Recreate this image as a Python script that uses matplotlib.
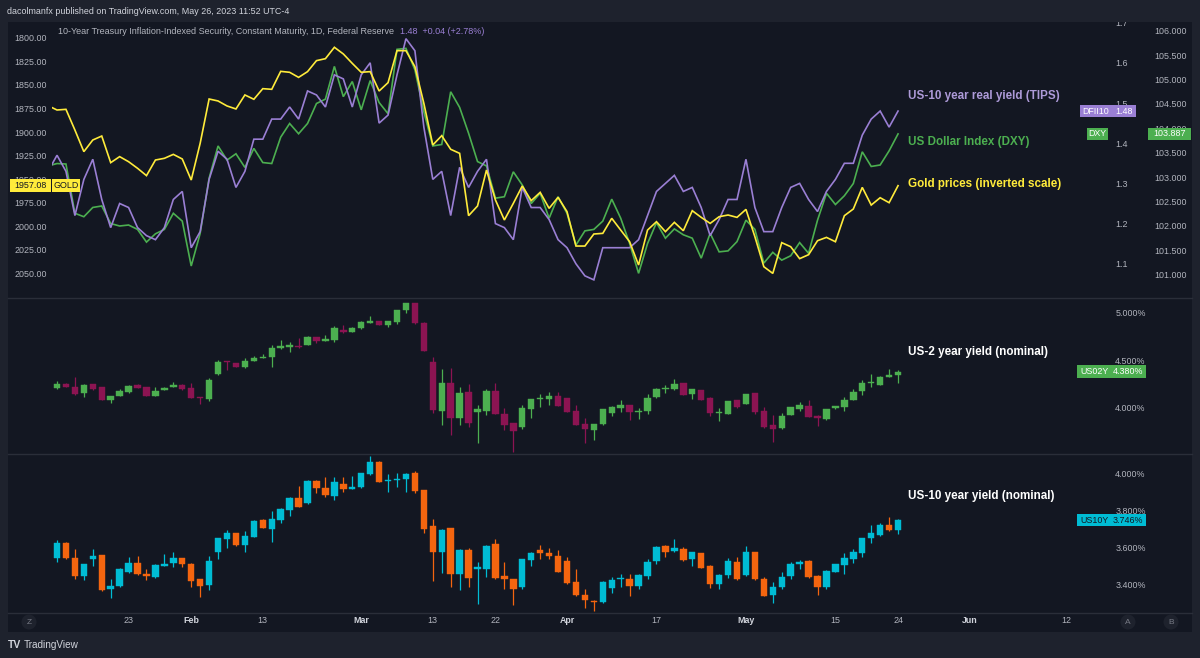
import numpy as np
import matplotlib
matplotlib.use('Agg')
import matplotlib.pyplot as plt
from matplotlib.patches import Rectangle, Ellipse
from matplotlib.lines import Line2D
import matplotlib.transforms as mtrans

plt.rcParams['font.family'] = ['Liberation Sans', 'DejaVu Sans']

# ---------------- DATA (daily bars, 9 Jan 2023 .. 24 May 2023) ----------------
gold = [1872.0, 1876.6, 1875.9, 1897.9, 1920.9, 1908.5, 1904.3, 1932.6, 1926.2, 1931.6,
        1938.6, 1946.4, 1929.8, 1928.0, 1923.8, 1928.7, 1951.1, 1912.0, 1864.9, 1867.0,
        1872.3, 1875.5, 1860.6, 1865.2, 1853.9, 1854.6, 1835.5, 1836.5, 1841.9, 1835.8,
        1824.1, 1822.0, 1809.9, 1817.0, 1827.0, 1836.5, 1835.8, 1856.4, 1847.5, 1813.5,
        1813.5, 1830.5, 1869.5, 1913.8, 1903.9, 1918.4, 1922.7, 1989.0, 1978.7, 1940.4,
        1972.3, 1993.6, 1975.9, 1957.4, 1973.0, 1964.2, 1981.2, 1969.5, 1984.7, 2021.3,
        2021.3, 2008.5, 2007.8, 1991.8, 2004.3, 2016.7, 2041.5, 2004.3, 1995.4, 2006.0,
        1996.1, 2005.0, 1983.7, 1990.8, 1997.2, 1990.1, 1988.3, 1990.8, 1982.3, 2011.4,
        2043.3, 2050.4, 2017.7, 2022.0, 2034.7, 2030.5, 2015.6, 2012.1, 2016.7, 1989.0,
        1981.9, 1958.9, 1977.7, 1969.9, 1975.2, 1957.08]

dfii10 = [1.33, 1.37, 1.33, 1.22, 1.31, 1.36, 1.26, 1.19, 1.25, 1.24,
          1.19, 1.17, 1.16, 1.19, 1.26, 1.28, 1.14, 1.18, 1.31, 1.38,
          1.36, 1.29, 1.33, 1.41, 1.41, 1.46, 1.46, 1.49, 1.46, 1.53,
          1.52, 1.49, 1.57, 1.56, 1.49, 1.57, 1.60, 1.45, 1.47, 1.57,
          1.66, 1.63, 1.44, 1.31, 1.33, 1.22, 1.34, 1.29, 1.33, 1.36,
          1.20, 1.19, 1.16, 1.29, 1.24, 1.24, 1.21, 1.16, 1.14, 1.10,
          1.07, 1.06, 1.14, 1.14, 1.14, 1.14, 1.16, 1.22, 1.28, 1.30,
          1.32, 1.28, 1.29, 1.24, 1.17, 1.21, 1.26, 1.26, 1.36, 1.24,
          1.18, 1.18, 1.24, 1.29, 1.30, 1.26, 1.23, 1.28, 1.31, 1.35,
          1.35, 1.42, 1.46, 1.48, 1.44, 1.48]

dxy = [103.23, 103.28, 103.27, 102.26, 102.19, 102.38, 102.41, 102.05, 102.00, 102.02,
       101.93, 101.67, 101.84, 101.93, 102.26, 102.10, 101.18, 101.85, 102.98, 103.64,
       103.35, 103.48, 103.20, 103.59, 103.30, 103.28, 103.82, 104.10, 103.89, 104.10,
       104.51, 104.60, 105.27, 104.65, 104.96, 104.38, 104.98, 104.53, 104.30, 105.62,
       105.64, 105.20, 104.34, 103.64, 103.67, 104.75, 104.43, 103.90, 103.32, 103.23,
       102.57, 102.60, 103.11, 102.84, 102.46, 102.67, 102.16, 102.60, 102.26, 101.61,
       101.90, 101.93, 102.10, 102.55, 102.16, 101.64, 101.03, 101.64, 102.07, 101.75,
       101.94, 101.82, 101.75, 101.34, 101.85, 101.47, 101.49, 101.68, 102.12, 101.93,
       101.24, 101.46, 101.30, 101.39, 101.66, 101.44, 102.12, 102.67, 102.44, 102.62,
       102.87, 103.52, 103.22, 103.25, 103.54, 103.887]

us02_open = [4.270, 4.208, 4.253, 4.222, 4.153, 4.250, 4.215, 4.083, 4.128, 4.163,
             4.236, 4.215, 4.128, 4.187, 4.219, 4.243, 4.208, 4.114, 4.097, 4.354,
             4.482, 4.469, 4.423, 4.489, 4.521, 4.528, 4.625, 4.639, 4.649, 4.660,
             4.736, 4.701, 4.712, 4.812, 4.795, 4.830, 4.889, 4.903, 4.861, 4.896,
             5.021, 5.090, 4.889, 4.482, 3.972, 4.264, 3.892, 4.163, 3.958, 3.972,
             4.177, 3.934, 3.840, 3.798, 3.989, 4.090, 4.097, 4.125, 4.101, 3.972,
             3.833, 3.771, 3.830, 3.944, 4.003, 4.031, 3.955, 3.965, 4.118, 4.198,
             4.194, 4.257, 4.142, 4.184, 4.107, 3.944, 3.937, 4.083, 4.042, 4.156,
             3.972, 3.823, 3.788, 3.927, 3.989, 4.024, 3.920, 3.889, 3.996, 4.014,
             4.083, 4.177, 4.260, 4.243, 4.326, 4.344]
us02_high = [4.300, 4.285, 4.258, 4.326, 4.247, 4.255, 4.218, 4.128, 4.198, 4.243,
             4.250, 4.218, 4.215, 4.222, 4.267, 4.247, 4.257, 4.117, 4.309, 4.500,
             4.486, 4.472, 4.517, 4.538, 4.559, 4.653, 4.708, 4.691, 4.726, 4.750,
             4.740, 4.760, 4.854, 4.864, 4.842, 4.910, 4.958, 4.906, 4.906, 5.025,
             5.095, 5.095, 4.893, 4.535, 4.403, 4.413, 4.215, 4.250, 4.031, 4.194,
             4.257, 3.996, 3.844, 4.031, 4.097, 4.146, 4.163, 4.170, 4.105, 4.031,
             3.892, 3.837, 3.990, 4.017, 4.083, 4.035, 3.996, 4.146, 4.205, 4.239,
             4.298, 4.260, 4.198, 4.187, 4.111, 3.996, 4.076, 4.087, 4.150, 4.160,
             4.014, 3.927, 3.944, 4.010, 4.059, 4.083, 3.924, 3.993, 4.024, 4.118,
             4.194, 4.292, 4.351, 4.330, 4.406, 4.392]
us02_low = [4.240, 4.201, 4.215, 4.138, 4.118, 4.187, 4.080, 4.048, 4.125, 4.160,
            4.205, 4.122, 4.125, 4.184, 4.215, 4.190, 4.104, 4.042, 4.073, 4.340,
            4.396, 4.424, 4.420, 4.486, 4.518, 4.430, 4.611, 4.587, 4.628, 4.656,
            4.673, 4.698, 4.691, 4.778, 4.791, 4.826, 4.885, 4.864, 4.847, 4.871,
            4.993, 4.878, 4.593, 3.944, 3.823, 3.719, 3.823, 3.805, 3.632, 3.927,
            3.933, 3.771, 3.545, 3.778, 3.892, 4.007, 4.031, 4.020, 3.958, 3.820,
            3.639, 3.667, 3.826, 3.920, 3.962, 3.875, 3.882, 3.937, 4.101, 4.153,
            4.190, 4.135, 4.090, 4.080, 3.917, 3.865, 3.933, 4.003, 4.038, 3.937,
            3.795, 3.649, 3.785, 3.924, 3.969, 3.906, 3.812, 3.875, 3.993, 3.972,
            4.080, 4.135, 4.222, 4.240, 4.322, 4.257]
us02_close = [4.260, 4.250, 4.219, 4.142, 4.243, 4.201, 4.083, 4.125, 4.177, 4.229,
              4.208, 4.125, 4.180, 4.205, 4.243, 4.194, 4.107, 4.101, 4.292, 4.482,
              4.476, 4.427, 4.489, 4.524, 4.531, 4.628, 4.642, 4.646, 4.632, 4.736,
              4.701, 4.708, 4.830, 4.788, 4.837, 4.892, 4.899, 4.868, 4.903, 5.021,
              5.090, 4.882, 4.597, 3.979, 4.264, 3.892, 4.160, 3.840, 3.986, 4.177,
              3.937, 3.823, 3.764, 3.996, 4.094, 4.107, 4.125, 4.024, 3.962, 3.823,
              3.781, 3.833, 3.986, 4.014, 4.028, 3.955, 3.969, 4.107, 4.201, 4.212,
              4.250, 4.139, 4.194, 4.083, 3.951, 3.951, 4.073, 4.007, 4.146, 3.955,
              3.798, 3.785, 3.917, 4.007, 4.028, 3.910, 3.899, 3.989, 4.021, 4.083,
              4.163, 4.264, 4.271, 4.326, 4.333, 4.380]

us10_open = [3.575, 3.539, 3.623, 3.542, 3.443, 3.535, 3.555, 3.371, 3.389, 3.465,
             3.515, 3.457, 3.439, 3.499, 3.515, 3.539, 3.510, 3.425, 3.393, 3.575,
             3.641, 3.674, 3.611, 3.656, 3.746, 3.699, 3.746, 3.803, 3.866, 3.839,
             3.956, 3.921, 3.877, 3.939, 3.915, 3.922, 3.994, 4.061, 3.957, 3.962,
             3.967, 4.002, 3.908, 3.713, 3.575, 3.701, 3.457, 3.584, 3.481, 3.484,
             3.616, 3.443, 3.427, 3.385, 3.529, 3.584, 3.566, 3.551, 3.524, 3.412,
             3.340, 3.310, 3.304, 3.380, 3.425, 3.430, 3.389, 3.443, 3.526, 3.605,
             3.580, 3.589, 3.535, 3.566, 3.497, 3.400, 3.448, 3.519, 3.448, 3.571,
             3.430, 3.339, 3.382, 3.443, 3.506, 3.524, 3.445, 3.384, 3.466, 3.502,
             3.535, 3.569, 3.650, 3.665, 3.719, 3.692]
us10_high = [3.580, 3.638, 3.627, 3.587, 3.510, 3.587, 3.558, 3.425, 3.488, 3.544,
             3.551, 3.484, 3.506, 3.562, 3.571, 3.542, 3.513, 3.428, 3.551, 3.650,
             3.692, 3.677, 3.686, 3.746, 3.749, 3.796, 3.810, 3.872, 3.930, 3.960,
             3.960, 3.980, 3.980, 3.980, 3.984, 4.002, 4.092, 4.065, 3.993, 4.002,
             3.998, 4.012, 3.911, 3.749, 3.695, 3.704, 3.587, 3.596, 3.517, 3.610,
             3.641, 3.521, 3.430, 3.538, 3.573, 3.611, 3.596, 3.584, 3.544, 3.484,
             3.371, 3.313, 3.416, 3.436, 3.454, 3.457, 3.452, 3.533, 3.605, 3.609,
             3.641, 3.598, 3.576, 3.569, 3.501, 3.452, 3.539, 3.548, 3.605, 3.575,
             3.439, 3.409, 3.463, 3.521, 3.529, 3.528, 3.448, 3.474, 3.510, 3.569,
             3.589, 3.650, 3.719, 3.728, 3.764, 3.750]
us10_low = [3.535, 3.521, 3.535, 3.425, 3.421, 3.497, 3.363, 3.322, 3.385, 3.461,
            3.448, 3.421, 3.435, 3.495, 3.493, 3.490, 3.385, 3.331, 3.367, 3.533,
            3.596, 3.607, 3.575, 3.652, 3.701, 3.625, 3.731, 3.767, 3.814, 3.835,
            3.890, 3.868, 3.854, 3.899, 3.912, 3.918, 3.990, 3.949, 3.895, 3.922,
            3.899, 3.894, 3.674, 3.418, 3.461, 3.385, 3.367, 3.382, 3.292, 3.436,
            3.430, 3.376, 3.286, 3.371, 3.497, 3.533, 3.533, 3.463, 3.403, 3.335,
            3.268, 3.256, 3.300, 3.349, 3.385, 3.337, 3.371, 3.425, 3.508, 3.548,
            3.576, 3.526, 3.499, 3.485, 3.380, 3.376, 3.434, 3.421, 3.445, 3.421,
            3.333, 3.295, 3.376, 3.425, 3.479, 3.434, 3.340, 3.371, 3.463, 3.457,
            3.515, 3.548, 3.623, 3.661, 3.688, 3.670]
us10_close = [3.539, 3.623, 3.539, 3.443, 3.506, 3.551, 3.367, 3.391, 3.484, 3.515,
              3.452, 3.443, 3.502, 3.502, 3.542, 3.506, 3.418, 3.389, 3.524, 3.647,
              3.677, 3.611, 3.661, 3.742, 3.704, 3.749, 3.807, 3.866, 3.818, 3.956,
              3.917, 3.881, 3.949, 3.912, 3.921, 3.998, 4.061, 3.953, 3.962, 3.967,
              3.994, 3.904, 3.697, 3.571, 3.692, 3.454, 3.584, 3.434, 3.490, 3.607,
              3.434, 3.430, 3.376, 3.535, 3.569, 3.566, 3.551, 3.466, 3.407, 3.339,
              3.313, 3.304, 3.412, 3.421, 3.429, 3.391, 3.448, 3.517, 3.602, 3.575,
              3.596, 3.529, 3.573, 3.488, 3.398, 3.448, 3.524, 3.425, 3.573, 3.425,
              3.337, 3.384, 3.436, 3.510, 3.519, 3.438, 3.384, 3.470, 3.506, 3.539,
              3.571, 3.647, 3.677, 3.719, 3.692, 3.746]

# x-axis tick labels (bar-index positions, index 0 = 9 Jan 2023)
xtick_pos = [9, 16, 24, 35, 43, 50, 58, 68, 78, 88, 95, 103, 113.8]
xtick_labels = ['23', 'Feb', '13', 'Mar', '13', '22', 'Apr', '17', 'May', '15', '24', 'Jun', '12']
month_labels = {'Feb', 'Mar', 'Apr', 'May', 'Jun'}

gold_ticks = np.arange(1800, 2051, 25)
dfii_ticks = [1.1, 1.2, 1.3, 1.4, 1.5, 1.6, 1.7]
dxy_ticks = np.arange(101.0, 106.01, 0.5)
us02_ticks = [4.0, 4.5, 5.0]
us10_ticks = [3.4, 3.6, 3.8, 4.0]

# ---------------- STYLE ----------------
BG = '#131722'
FRAME = '#1e222d'
SEP = '#2a2e39'
TXT = '#b2b5be'
C_GOLD = '#ffeb3b'
C_DFII = '#9a7fd4'
C_DXY = '#4caf50'
C_UP2, C_DN2 = '#4caf50', '#8c1452'
C_UP10, C_DN10 = '#00bcd4', '#f4650f'

W, H = 1200, 658
fig = plt.figure(figsize=(12, 6.58), dpi=100)
fig.patch.set_facecolor(FRAME)


def fx(px):
    return px / W


def fy(py):
    return 1 - py / H


fig.add_artist(Rectangle((fx(8), fy(632)), fx(1192) - fx(8), fy(22) - fy(632),
                         transform=fig.transFigure, facecolor=BG, edgecolor='none', zorder=-10))

L, R = 52, 1077


def add_ax(top, bottom):
    a = fig.add_axes([fx(L), fy(bottom), fx(R) - fx(L), fy(top) - fy(bottom)])
    a.patch.set_visible(False)
    for s in a.spines.values():
        s.set_visible(False)
    a.tick_params(length=0, colors=TXT, labelsize=6.4)
    return a


n = len(gold)
x = np.arange(n)
XLIM = (0.44, 115.0)

ax_top = add_ax(22, 297)
ax_mid = add_ax(298, 453)
ax_bot = add_ax(454, 612)
ax_dxy = ax_top.twinx()
ax_dfii = ax_top.twinx()
for a in (ax_dxy, ax_dfii):
    a.patch.set_visible(False)
    for s in a.spines.values():
        s.set_visible(False)
    a.tick_params(length=0, colors=TXT, labelsize=6.4)
ax_dxy.set_zorder(1)
ax_dfii.set_zorder(2)
ax_top.set_zorder(3)

for a in (ax_top, ax_mid, ax_bot, ax_dxy, ax_dfii):
    a.set_xlim(*XLIM)

# --- top panel ---
ax_top.set_ylim(2075.5, 1783.0)
ax_top.set_yticks(gold_ticks)
ax_top.set_yticklabels([f'{v:.2f}' for v in gold_ticks])
ax_top.tick_params(axis='y', pad=3.6)
ax_top.set_xticks([])

ax_dfii.set_ylim(1.0174, 1.7015)
ax_dfii.set_yticks(dfii_ticks)
ax_dfii.set_yticklabels([f'{v:.1f}' for v in dfii_ticks])
ax_dfii.tick_params(axis='y', pad=27.5)

ax_dxy.set_ylim(100.545, 106.180)
ax_dxy.set_yticks(dxy_ticks)
ax_dxy.set_yticklabels([f'{v:.3f}' for v in dxy_ticks])
ax_dxy.tick_params(axis='y', pad=55.5)

ax_dxy.plot(x, dxy, color=C_DXY, lw=1.2, solid_joinstyle='miter')
ax_dfii.plot(x, dfii10, color=C_DFII, lw=1.2, solid_joinstyle='miter')
ax_top.plot(x, gold, color=C_GOLD, lw=1.2, solid_joinstyle='miter')


# --- candles ---
def candles(ax, o, h, l, c, up, dn, ylim, ticks):
    o, h, l, c = map(np.asarray, (o, h, l, c))
    ax.set_ylim(*ylim)
    ax.yaxis.tick_right()
    ax.set_yticks(ticks)
    ax.set_yticklabels([f'{v:.3f}%' for v in ticks])
    ax.tick_params(axis='y', pad=27.5)
    bbox = ax.get_position()
    px_h = bbox.height * H
    min_h = (ylim[1] - ylim[0]) / px_h * 1.3
    cols = np.where(c >= o, up, dn)
    ax.vlines(x, l, h, colors=cols, lw=0.9, zorder=2)
    bottom = np.minimum(o, c)
    height = np.maximum(np.abs(c - o), min_h)
    ax.bar(x, height, bottom=bottom, width=0.72, color=cols, edgecolor=cols,
           linewidth=0.3, zorder=3)


candles(ax_mid, us02_open, us02_high, us02_low, us02_close, C_UP2, C_DN2, (3.531, 5.146), us02_ticks)
candles(ax_bot, us10_open, us10_high, us10_low, us10_close, C_UP10, C_DN10, (3.249, 4.103), us10_ticks)
ax_mid.set_xticks([])

ax_bot.set_xticks(xtick_pos)
ax_bot.set_xticklabels(xtick_labels)
ax_bot.tick_params(axis='x', pad=3.2, labelsize=6.4)
for t in ax_bot.get_xticklabels():
    if t.get_text() in month_labels:
        t.set_fontweight('bold')
        t.set_color('#d1d4dc')

# --- separators ---
for py in (297.5, 453.5, 612.5):
    fig.add_artist(Line2D([fx(8), fx(1192)], [fy(py), fy(py)], color=SEP, lw=1.0, zorder=4))

# --- header & footer ---
fig.add_artist(Rectangle((0, fy(22)), 1, 22 / H, transform=fig.transFigure,
                         facecolor=FRAME, edgecolor='none', zorder=10))
fig.text(fx(7), fy(11.5), 'dacolmanfx published on TradingView.com, May 26, 2023 11:52 UTC-4',
         color='#d1d4dc', fontsize=6.4, va='center', ha='left', zorder=11)
t_title = fig.text(fx(58), fy(31), '10-Year Treasury Inflation-Indexed Security, Constant Maturity, 1D, Federal Reserve',
                   color=TXT, fontsize=6.5, va='center', ha='left', zorder=11)
fig.add_artist(matplotlib.text.Annotation('1.48  +0.04 (+2.78%)', xy=(1, 0.5), xycoords=t_title,
                                          xytext=(4, 0), textcoords='offset points', va='center',
                                          ha='left', color=C_DFII, fontsize=6.5, zorder=11))

fig.text(fx(8), fy(645), 'TV', color='#d1d4dc', fontsize=7.5, fontweight='bold', va='center', ha='left')
fig.text(fx(24), fy(645), 'TradingView', color='#d1d4dc', fontsize=7.2, va='center', ha='left')

for cx, s in ((29, 'Z'), (1128, 'A'), (1171, 'B')):
    fig.add_artist(Ellipse((fx(cx), fy(622)), 15 / W, 15 / H, transform=fig.transFigure,
                           facecolor='#1e222d', edgecolor='none', zorder=5))
    fig.text(fx(cx), fy(622), s, color='#787b86', fontsize=6, ha='center', va='center', zorder=6)

# --- annotations ---
ann_kw = dict(fontsize=8.4, fontweight='bold', va='center', ha='left', zorder=8)
fig.text(fx(908), fy(96), 'US-10 year real yield (TIPS)', color='#ad9ad8', **ann_kw)
fig.text(fx(908), fy(142), 'US Dollar Index (DXY)', color=C_DXY, **ann_kw)
fig.text(fx(908), fy(184), 'Gold prices (inverted scale)', color=C_GOLD, **ann_kw)
fig.text(fx(908), fy(352), 'US-2 year yield (nominal)', color='white', **ann_kw)
fig.text(fx(908), fy(496), 'US-10 year yield (nominal)', color='white', **ann_kw)


# --- price tags ---
def tag(ax, yval, x0, x1, fc, h_px=12.5):
    tr = mtrans.blended_transform_factory(fig.transFigure, ax.transData)
    lo, hi = ax.get_ylim()
    h_data = h_px * (hi - lo) / (ax.get_position().height * H)
    fig.add_artist(Rectangle((fx(x0), yval - h_data / 2), fx(x1) - fx(x0), h_data,
                             transform=tr, facecolor=fc, edgecolor='none', zorder=7))
    return tr


def tag_text(tr, xpx, yval, s, color, ha='center'):
    fig.add_artist(matplotlib.text.Text(fx(xpx), yval, s, transform=tr, color=color, fontsize=6.4,
                                        ha=ha, va='center', zorder=8))


tr = tag(ax_top, gold[-1], 10, 51, C_GOLD)
tag_text(tr, 30.5, gold[-1], f'{gold[-1]:.2f}', '#131722')
tag(ax_top, gold[-1], 52, 80, C_GOLD)
tag_text(tr, 66, gold[-1], 'GOLD', '#131722')

tr = tag(ax_dfii, dfii10[-1], 1080, 1136, C_DFII)
tag_text(tr, 1082, dfii10[-1], 'DFII10', 'white', ha='left')
tag_text(tr, 1133, dfii10[-1], f'{dfii10[-1]:.2f}', 'white', ha='right')

tr = tag(ax_dxy, dxy[-1], 1087, 1108, C_DXY)
tag_text(tr, 1097.5, dxy[-1], 'DXY', 'white')
tag(ax_dxy, dxy[-1], 1148, 1191, C_DXY)
tag_text(tr, 1169.5, dxy[-1], f'{dxy[-1]:.3f}', 'white')

tr = tag(ax_mid, us02_close[-1], 1077, 1146, C_UP2)
tag_text(tr, 1080, us02_close[-1], 'US02Y', 'white', ha='left')
tag_text(tr, 1143, us02_close[-1], f'{us02_close[-1]:.3f}%', 'white', ha='right')

tr = tag(ax_bot, us10_close[-1], 1077, 1146, C_UP10)
tag_text(tr, 1080, us10_close[-1], 'US10Y', '#131722', ha='left')
tag_text(tr, 1143, us10_close[-1], f'{us10_close[-1]:.3f}%', '#131722', ha='right')

fig.savefig('out.png', dpi=100, facecolor=fig.get_facecolor())
